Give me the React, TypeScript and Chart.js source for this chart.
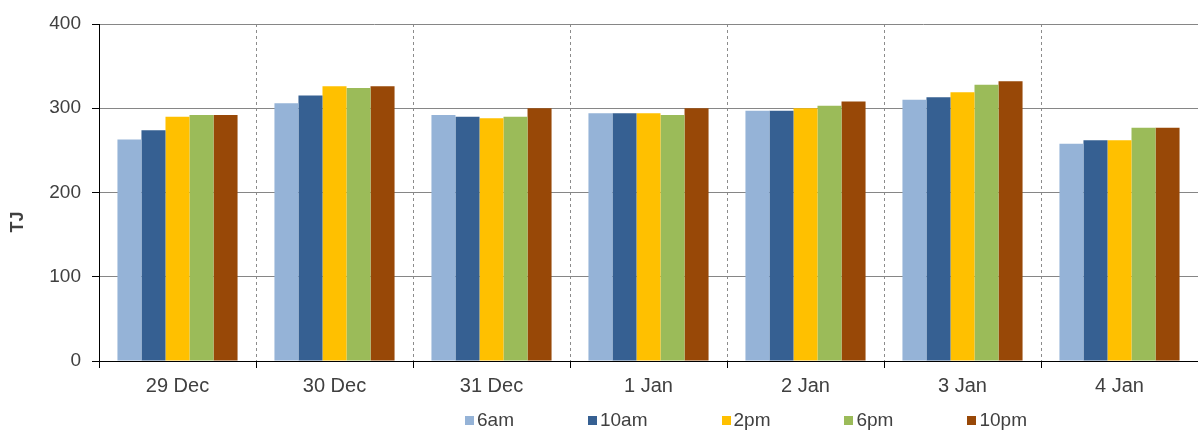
import { useEffect, useRef } from "react"
import { Chart, registerables } from "chart.js"

Chart.register(...registerables)

const categories = ["29 Dec", "30 Dec", "31 Dec", "1 Jan", "2 Jan", "3 Jan", "4 Jan"]
const seriesNames = ["6am", "10am", "2pm", "6pm", "10pm"]
const seriesColors = ["#95B3D7", "#366092", "#FFC000", "#9BBB59", "#984807"]

const sixAm = [263, 306, 292, 294, 297, 310, 258]
const tenAm = [274, 315, 290, 294, 297, 313, 262]
const twoPm = [290, 326, 288, 294, 300, 319, 262]
const sixPm = [292, 324, 290, 292, 303, 328, 277]
const tenPm = [292, 326, 300, 300, 308, 332, 277]

const seriesValues = [sixAm, tenAm, twoPm, sixPm, tenPm]

const FONT = "'Liberation Sans', Arial, sans-serif"
const TEXT = "#404040"

// draws the rotated "TJ" unit label left of the axis
const unitLabel = {
  id: "unitLabel",
  afterDraw(chart: Chart) {
    const ctx = chart.ctx
    ctx.save()
    ctx.translate(18, 222)
    ctx.rotate(-Math.PI / 2)
    ctx.font = `bold 18px ${FONT}`
    ctx.fillStyle = TEXT
    ctx.textAlign = "center"
    ctx.textBaseline = "middle"
    ctx.fillText("TJ", 0, 0)
    ctx.restore()
  },
}

function EnergyChart() {
  const chartRef = useRef<HTMLCanvasElement>(null)
  const chartInstance = useRef<Chart | null>(null)

  useEffect(() => {
    if (!chartRef.current) return
    if (chartInstance.current) chartInstance.current.destroy()

    const ctx = chartRef.current.getContext("2d")
    if (!ctx) return

    chartInstance.current = new Chart(ctx, {
      type: "bar",
      data: {
        labels: categories,
        datasets: seriesNames.map((name, i) => ({
          label: name,
          data: seriesValues[i],
          backgroundColor: seriesColors[i],
          borderWidth: 0,
          categoryPercentage: 0.765,
          barPercentage: 1,
        })),
      },
      options: {
        animation: false,
        responsive: true,
        maintainAspectRatio: false,
        layout: { padding: { top: 24, right: 0, bottom: 0, left: 0 } },
        plugins: {
          legend: { display: false },
          tooltip: { enabled: false },
        },
        scales: {
          x: {
            grid: {
              color: "#8c8c8c",
              tickLength: 7,
              tickColor: "#000",
              tickBorderDash: [],
            } as any,
            border: { color: "#000", width: 1, dash: [3, 3] },
            ticks: {
              color: TEXT,
              font: { family: FONT, size: 20 },
              padding: 6,
            },
            afterFit(scale) {
              scale.height = 69
            },
          },
          y: {
            min: 0,
            max: 400,
            ticks: {
              stepSize: 100,
              color: TEXT,
              font: { family: FONT, size: 19 },
              padding: 11,
            },
            grid: {
              color: "#868686",
              tickLength: 7,
              tickColor: "#000",
            },
            border: { color: "#000", width: 1 },
            afterFit(scale) {
              scale.width = 99
            },
          },
        },
      },
      plugins: [unitLabel],
    })

    return () => {
      if (chartInstance.current) {
        chartInstance.current.destroy()
        chartInstance.current = null
      }
    }
  }, [])

  return <canvas ref={chartRef} />
}

export default function App() {
  return (
    <div style={{ position: "fixed", left: 0, top: 0, width: 1198, height: 430, background: "#fff" }}>
      <div style={{ position: "absolute", left: 0, top: 0, width: 1198, height: 430 }}>
        <EnergyChart />
      </div>
      <div
        style={{
          position: "absolute",
          left: 465,
          top: 409,
          display: "flex",
          gap: 74,
          fontFamily: FONT,
          fontSize: 19,
          color: TEXT,
          lineHeight: "22px",
        }}
      >
        {seriesNames.map((name, i) => (
          <div key={name} style={{ display: "flex", alignItems: "center" }}>
            <span style={{ width: 9, height: 9, background: seriesColors[i], marginRight: 3, display: "inline-block" }} />
            {name}
          </div>
        ))}
      </div>
    </div>
  )
}
